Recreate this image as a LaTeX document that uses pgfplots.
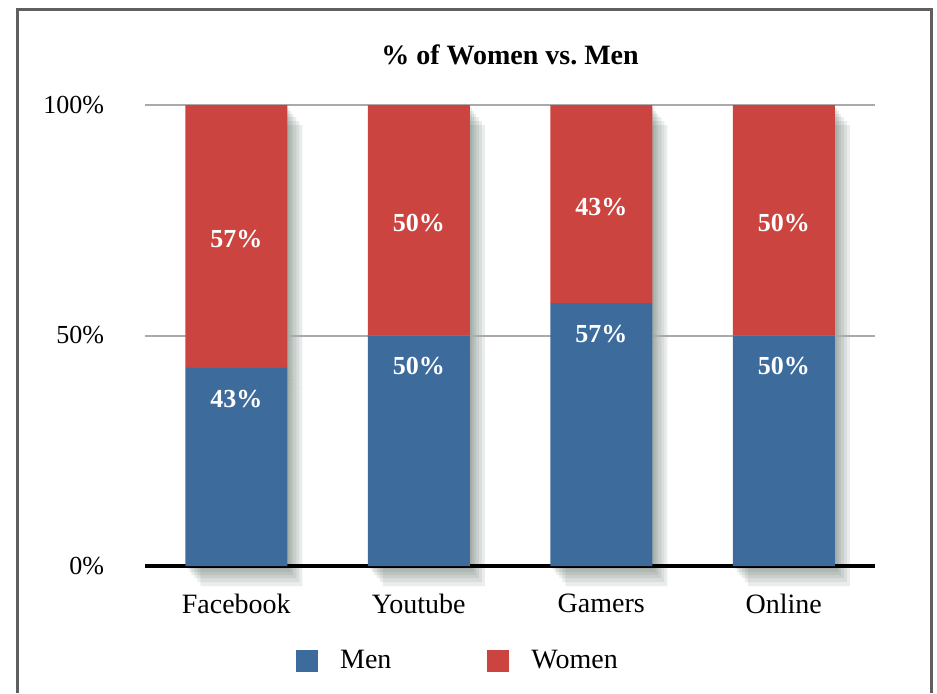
\documentclass[border=0pt]{standalone}
\usepackage{pgfplots}
\pgfplotsset{compat=1.18}
\usepackage{pgfplotstable}
\usepackage{fontspec}
\setmainfont{Liberation Serif}
\definecolor{menblue}{RGB}{61,107,156}
\definecolor{womenred}{RGB}{204,68,63}
\definecolor{gridgray}{RGB}{170,170,170}
\definecolor{framegray}{RGB}{95,95,95}
\definecolor{shadowc}{RGB}{80,100,85}

\pgfplotstableread{
x  name     men
0  Facebook 43
1  Youtube  50
2  Gamers   57
3  Online   50
}\mendata
\pgfplotstableread{
x women
0 57
1 50
2 43
3 50
}\womendata

\tikzset{
  sh/.style 2 args={preaction={fill=shadowc, fill opacity=0.11, draw=none,
      transform canvas={shift={(#1,#2)}}}},
}
\pgfplotsset{
  base/.style={
    scale only axis, width=365pt, height=230.5pt,
    at={(72.5pt,63.5pt)}, anchor=south west,
    xmin=-0.5, xmax=3.5, ymin=0, ymax=100,
    ybar stacked, bar width=51pt,
  },
  shad/.style={draw=none, fill=none,
    sh={1pt}{-1.5pt}, sh={2pt}{-3pt}, sh={3pt}{-4.5pt}, sh={4.5pt}{-6pt}, sh={6pt}{-8pt}, sh={7.5pt}{-10pt}},
}

\begin{document}
\begin{tikzpicture}
\fill[white] (0,0) rectangle (468.5pt,346.5pt);
\path[use as bounding box] (0,0) rectangle (468.5pt,346.5pt);

% shadows
\begin{axis}[base, hide axis, clip=false]
\addplot[shad] table[x=x,y=men]{\mendata};
\addplot[shad] table[x=x,y=women]{\womendata};
\end{axis}

\begin{axis}[base,
  axis x line*=bottom, axis y line*=left,
  y axis line style={draw=none},
  x axis line style={line width=2pt, black, -},
  major tick length=0pt,
  ytick={0,50,100}, yticklabel={\pgfmathprintnumber{\tick}\%},
  xtick={0,1,2,3}, xticklabels={Facebook,Youtube,Gamers,Online},
  ymajorgrids, grid style={gridgray, line width=1pt},
  /pgf/number format/assume math mode=true,
  yticklabel style={font=\fontsize{13}{15}\selectfont, xshift=-17pt},
  xticklabel style={font=\fontsize{14}{16}\selectfont, yshift=-10.5pt},
  title={\textbf{\% of Women vs.\ Men}},
  title style={at={(0.5,1)}, anchor=center, yshift=19pt, font=\fontsize{14}{16}\selectfont},
  legend style={at={(0.4274,-0.205)}, anchor=center, draw=none, fill=none,
    legend columns=2, font=\fontsize{14}{16}\selectfont,
    nodes={inner sep=0pt},
    /tikz/every odd column/.append style={column sep=11pt},
    /tikz/every even column/.append style={column sep=48pt}},
  legend image code/.code={\fill[#1] (0pt,-5.5pt) rectangle (11pt,5.5pt);},
  nodes near coords={\pgfmathprintnumber{\pgfplotspointmeta}\%},
  every node near coord/.append style={font=\fontsize{13}{15}\selectfont\bfseries,
     text=white, anchor=center,
     shift={(axis direction cs:0,-\myshift)}, yshift=\myoff},
]
\addplot[fill=menblue, draw=none, point meta=\thisrow{men},
  visualization depends on={-rawy/2 \as \myshift},
  visualization depends on={-15.5 \as \myoff}] table[x=x,y=men]{\mendata};
\addlegendentry{Men}
\addplot[fill=womenred, draw=none, point meta=\thisrow{women},
  visualization depends on={0 \as \myshift},
  visualization depends on={-1.5 \as \myoff}] table[x=x,y=women]{\womendata};
\addlegendentry{Women}
\end{axis}

\draw[framegray, line width=1.5pt] (8.5pt,0) -- (8.5pt,342pt) -- (465.5pt,342pt) -- (465.5pt,0);
\end{tikzpicture}
\end{document}
